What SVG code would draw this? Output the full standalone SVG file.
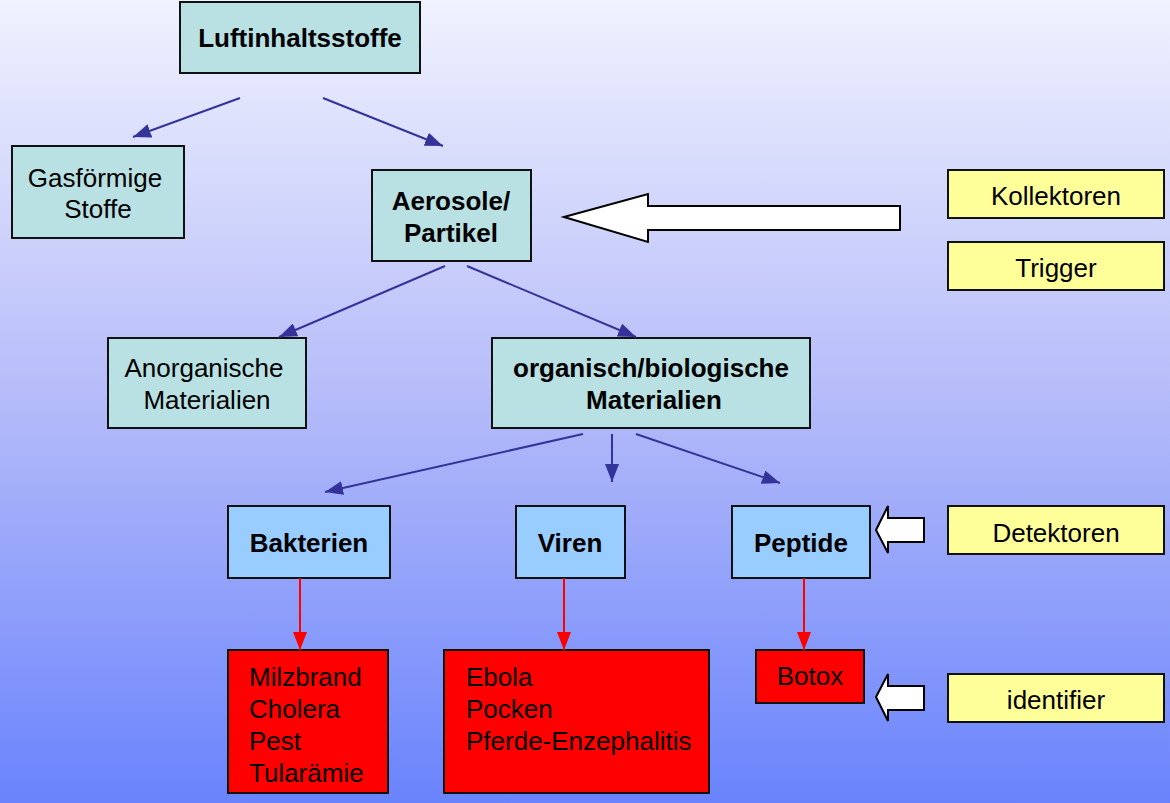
<svg xmlns="http://www.w3.org/2000/svg" width="1170" height="803" viewBox="0 0 1170 803">
<defs>
<linearGradient id="bg" x1="0" y1="0" x2="0" y2="1">
<stop offset="0" stop-color="#F0F2FE"/>
<stop offset="0.5" stop-color="#B4BBF9"/>
<stop offset="1" stop-color="#6983FC"/>
</linearGradient>
<marker id="ab" viewBox="0 0 18 14" refX="18" refY="7" markerWidth="18" markerHeight="14" markerUnits="userSpaceOnUse" orient="auto">
<path d="M0,0 L18,7 L0,14 Z" fill="#333399"/>
</marker>
<marker id="ar" viewBox="0 0 18 14" refX="18" refY="7" markerWidth="18" markerHeight="14" markerUnits="userSpaceOnUse" orient="auto">
<path d="M0,0 L18,7 L0,14 Z" fill="#FF0000"/>
</marker>
</defs>
<style>
.box{stroke:#111;stroke-width:2}
.teal{fill:#B9E0E2}
.blue{fill:#99CCFF}
.red{fill:#FF0000}
.yel{fill:#FFFF99}
.t{font-family:"Liberation Sans",Arial,sans-serif;font-size:26px;fill:#000}
.b{font-weight:bold}
.c{text-anchor:middle}
.cb{stroke:#333399;stroke-width:2;fill:none}
.cr{stroke:#FF0000;stroke-width:2;fill:none}
.hol{fill:#fff;stroke:#000;stroke-width:2}
</style>
<rect width="1170" height="803" fill="url(#bg)"/>

<g id="luft"><rect class="box teal" x="180" y="2" width="240" height="71"/><text class="t b c" x="300" y="47">Luftinhaltsstoffe</text></g>
<g id="gas"><rect class="box teal" x="12" y="146" width="172" height="92"/><text class="t c" x="95" y="187">Gasförmige</text><text class="t c" x="98" y="218">Stoffe</text></g>
<g id="aerosole"><rect class="box teal" x="372" y="170" width="159" height="91"/><text class="t b c" x="451" y="210">Aerosole/</text><text class="t b c" x="451" y="242">Partikel</text></g>
<g id="kollektoren"><rect class="box yel" x="948" y="170" width="216" height="48"/><text class="t c" x="1056" y="205">Kollektoren</text></g>
<g id="trigger"><rect class="box yel" x="948" y="242" width="216" height="48"/><text class="t c" x="1056" y="277">Trigger</text></g>
<g id="anorganisch"><rect class="box teal" x="108" y="338" width="198" height="90"/><text class="t c" x="204" y="377">Anorganische</text><text class="t c" x="207" y="409">Materialien</text></g>
<g id="organisch"><rect class="box teal" x="492" y="338" width="318" height="90"/><text class="t b c" x="651" y="377">organisch/biologische</text><text class="t b c" x="654" y="409">Materialien</text></g>
<g id="bakterien"><rect class="box blue" x="228" y="506" width="162" height="72"/><text class="t b c" x="309" y="552">Bakterien</text></g>
<g id="viren"><rect class="box blue" x="516" y="506" width="109" height="72"/><text class="t b c" x="570" y="552">Viren</text></g>
<g id="peptide"><rect class="box blue" x="732" y="506" width="138" height="72"/><text class="t b c" x="801" y="552">Peptide</text></g>
<g id="detektoren"><rect class="box yel" x="948" y="506" width="216" height="48"/><text class="t c" x="1056" y="542">Detektoren</text></g>
<g id="bakt-list"><rect class="box red" x="228" y="650" width="160" height="143"/><text class="t" x="249" y="686">Milzbrand</text><text class="t" x="249" y="718">Cholera</text><text class="t" x="249" y="750">Pest</text><text class="t" x="249" y="782">Tularämie</text></g>
<g id="viren-list"><rect class="box red" x="444" y="650" width="265" height="143"/><text class="t" x="466" y="686">Ebola</text><text class="t" x="466" y="718">Pocken</text><text class="t" x="466" y="750">Pferde-Enzephalitis</text></g>
<g id="botox"><rect class="box red" x="756" y="650" width="108" height="53"/><text class="t c" x="810" y="685">Botox</text></g>
<g id="identifier"><rect class="box yel" x="948" y="674" width="216" height="48"/><text class="t c" x="1056" y="709">identifier</text></g>

<g id="connectors">
<line class="cb" x1="240" y1="98" x2="133" y2="137" marker-end="url(#ab)"/>
<line class="cb" x1="323" y1="98" x2="443" y2="146" marker-end="url(#ab)"/>
<line class="cb" x1="445" y1="266" x2="279" y2="337" marker-end="url(#ab)"/>
<line class="cb" x1="467" y1="266" x2="636" y2="337" marker-end="url(#ab)"/>
<line class="cb" x1="583" y1="434" x2="325" y2="492" marker-end="url(#ab)"/>
<line class="cb" x1="612" y1="434" x2="612" y2="482" marker-end="url(#ab)"/>
<line class="cb" x1="636" y1="434" x2="780" y2="483" marker-end="url(#ab)"/>
<line class="cr" x1="300" y1="578" x2="300" y2="650" marker-end="url(#ar)"/>
<line class="cr" x1="564" y1="578" x2="564" y2="650" marker-end="url(#ar)"/>
<line class="cr" x1="804" y1="578" x2="804" y2="650" marker-end="url(#ar)"/>
<path class="hol" d="M564,217 L648,194 L648,206 L900,206 L900,230 L648,230 L648,242 Z"/>
<path class="hol" d="M876,530 L888,506 L888,518 L924,518 L924,542 L888,542 L888,553 Z"/>
<path class="hol" d="M876,697 L888,674 L888,686 L924,686 L924,710 L888,710 L888,721 Z"/>
</g>
</svg>
